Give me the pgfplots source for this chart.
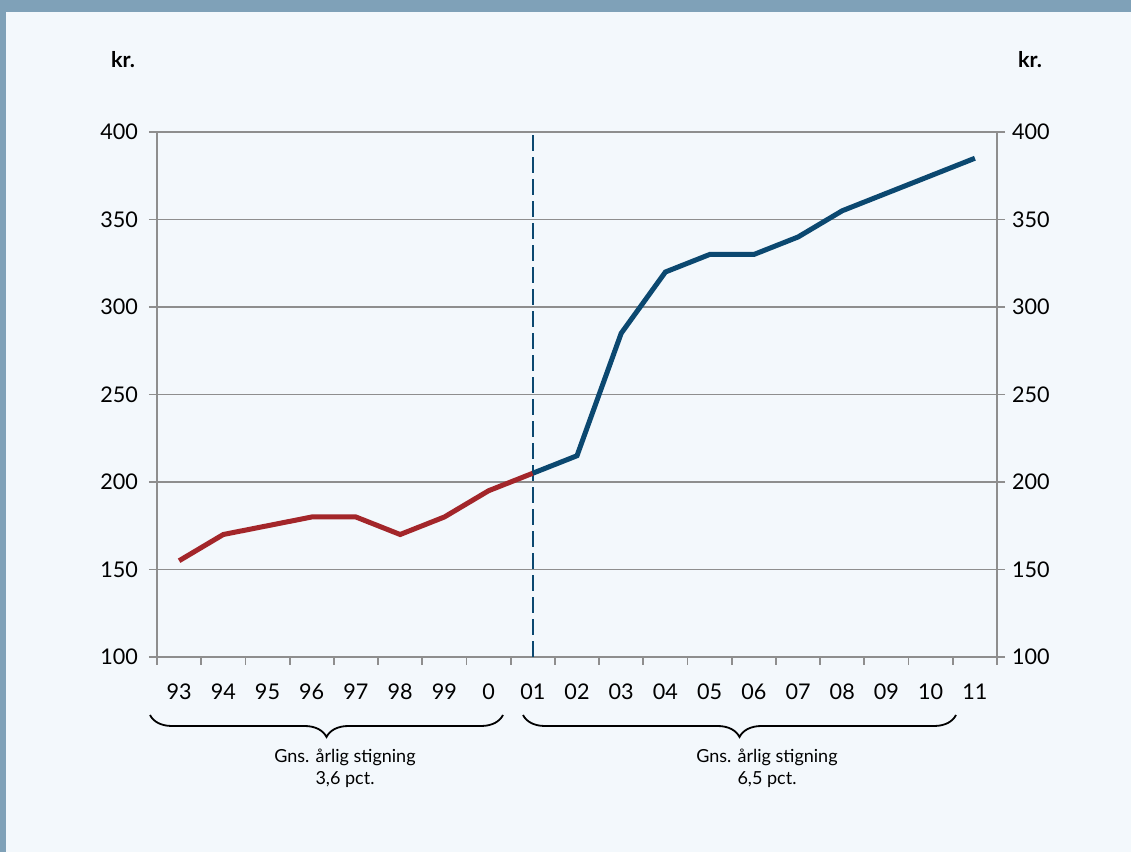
\documentclass[border=0pt]{standalone}
\usepackage{pgfplots}
\pgfplotsset{compat=1.18}
\usepackage{fontspec}
\setmainfont{Lato}
\usetikzlibrary{decorations.pathreplacing}

\definecolor{bgblue}{HTML}{F3F8FC}
\definecolor{frameblue}{HTML}{7FA1B8}
\definecolor{linered}{HTML}{A3262A}
\definecolor{lineblue}{HTML}{0B4870}
\definecolor{gridgray}{HTML}{8E8E8E}

\pgfplotstableread{
x y
0 155
1 170
2 175
3 180
4 180
5 170
6 180
7 195
8 205
}\before

\pgfplotstableread{
x y
8 205
9 215
10 285
11 320
12 330
13 330
14 340
15 355
16 365
17 375
18 385
}\after

\pgfplotsset{
  kr/.style={
    scale only axis, width=420pt, height=262.5pt,
    xmin=-0.5, xmax=18.5, ymin=100, ymax=400,
    ytick={100,150,...,400},
    tick align=outside,
    major tick length=4pt, minor tick length=4pt,
    axis line style={gridgray, line width=0.9pt},
    every tick/.style={gridgray, line width=0.9pt},
    tick label style={font=\fontsize{10.8}{12}\selectfont},
    /pgf/number format/assume math mode=true,
    yticklabel style={xshift=-2pt},
  }
}

\begin{document}
\begin{tikzpicture}[x=0.5pt, y=0.5pt]
  % background and frame
  \fill[bgblue] (0,0) rectangle (1131,852);
  \fill[frameblue] (0,840) rectangle (1131,852);
  \fill[frameblue] (0,0) rectangle (6,852);

  \begin{axis}[kr,
    at={(78.5pt,97.5pt)}, anchor=south west,
    axis x line*=bottom, axis y line*=left,
    ymajorgrids, grid style={gridgray, line width=0.9pt},
    xtick={0,...,18},
    xticklabels={93,94,95,96,97,98,99,0,01,02,03,04,05,06,07,08,09,10,11},
    major x tick style={draw=none},
    minor xtick={-0.5,0.5,...,18.5},
    xticklabel style={yshift=-6pt},
  ]
    \addplot[lineblue, line width=1.2pt, dash pattern=on 8pt off 3pt] coordinates {(8,100) (8,400)};
    \addplot[linered, line width=2.5pt] table {\before};
    \addplot[lineblue, line width=2.5pt] table {\after};
  \end{axis}

  \begin{axis}[kr,
    at={(78.5pt,97.5pt)}, anchor=south west,
    axis x line=none, axis y line*=right,
    yticklabel style={xshift=2pt},
  ]
    \addplot[draw=none] coordinates {(0,100)};
  \end{axis}

  % unit labels
  \node[font=\fontsize{10.8}{12}\selectfont\bfseries] at (123,792) {kr.};
  \node[font=\fontsize{10.8}{12}\selectfont\bfseries] at (1030,792) {kr.};

  % braces
  \draw[line width=0.9pt, decorate, decoration={brace, mirror, amplitude=11pt}]
    (150,137) -- (503,137);
  \draw[line width=0.9pt, decorate, decoration={brace, mirror, amplitude=11pt}]
    (523,137) -- (956,137);
  \node[align=center, font=\fontsize{9}{11}\selectfont] at (345,84) {Gns. årlig stigning\\3,6 pct.};
  \node[align=center, font=\fontsize{9}{11}\selectfont] at (767,84) {Gns. årlig stigning\\6,5 pct.};
\end{tikzpicture}
\end{document}
